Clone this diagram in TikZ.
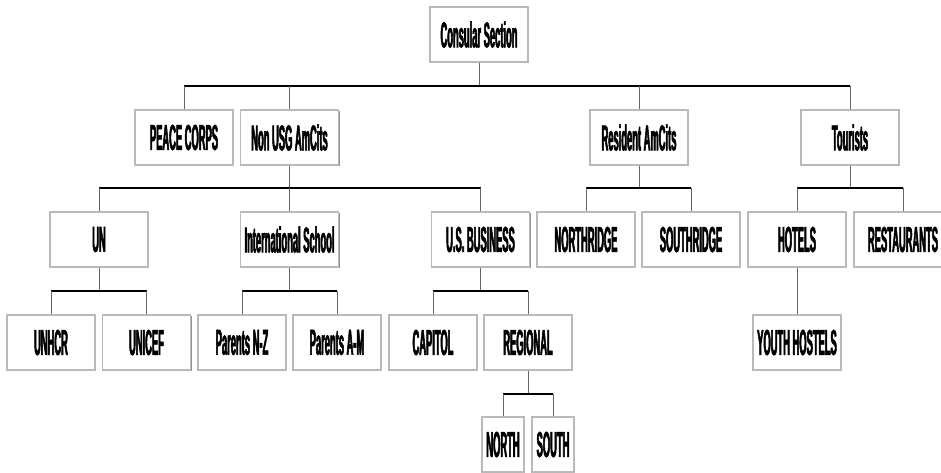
\documentclass[tikz,border=0pt]{standalone}
\usepackage{fontspec}
\newfontfamily\orgfont{Liberation Sans}[FakeStretch=0.26, FakeBold=1.5]
\usepackage{tikz}
\usetikzlibrary{shadows}

\begin{document}
\begin{tikzpicture}[x=0.75pt,y=0.75pt,yscale=-1,xscale=1,
  unit/.style={draw=gray!55, line width=0.9pt, fill=white, inner sep=0pt,
    minimum width=73.5pt, minimum height=41.25pt,
    font=\orgfont\bfseries\fontsize{27}{29}\selectfont,
    drop shadow={shadow xshift=0.9pt, shadow yshift=-0.9pt, fill=gray!85, opacity=1}},
  subunit/.style={unit, minimum width=66pt},
  leaf/.style={unit, minimum width=31.5pt},
  stem/.style={draw=black!60, line width=0.75pt},
  bar/.style={draw=black, line width=1.5pt}]
%set diagram left start at 0, and has height of 472
\useasboundingbox (0,0) rectangle (941,472);

% Text Node
\node[unit] (cons) at (479,34.5) {Consular Section};
% Text Node
\node[unit] (peace) at (184,137.5) {PEACE CORPS};
\node[unit] (nonusg) at (289.5,137.5) {Non USG AmCits};
\node[unit] (resident) at (639,137.5) {Resident AmCits};
\node[unit] (tourists) at (850,137.5) {Tourists};
% Text Node
\node[unit] (un) at (99,239.5) {UN};
\node[unit] (school) at (289.5,239.5) {International School};
\node[unit] (business) at (480.5,239.5) {U.S. BUSINESS};
\node[unit] (northridge) at (586,239.5) {NORTHRIDGE};
\node[unit] (southridge) at (691,239.5) {SOUTHRIDGE};
\node[unit] (hotels) at (797,239.5) {HOTELS};
\node[unit] (restaurants) at (903,239.5) {RESTAURANTS};
% Text Node
\node[subunit] (unhcr) at (51,342.5) {UNHCR};
\node[subunit] (unicef) at (146.5,342.5) {UNICEF};
\node[subunit] (parentsnz) at (242,342.5) {Parents N-Z};
\node[subunit] (parentsam) at (337,342.5) {Parents A-M};
\node[subunit] (capitol) at (433,342.5) {CAPITOL};
\node[subunit] (regional) at (528,342.5) {REGIONAL};
\node[subunit] (youth) at (797,342.5) {YOUTH HOSTELS};
% Text Node
\node[leaf] (north) at (503,444.5) {NORTH};
\node[leaf] (south) at (553,444.5) {SOUTH};

% bar heights
\coordinate (lvl1) at (0,86);
\coordinate (lvl2) at (0,188);
\coordinate (lvl3) at (0,291);
\coordinate (lvl4) at (0,394);

%Straight Lines
\draw[stem] (cons) -- (cons |- lvl1);
\draw[bar] (peace |- lvl1) -- (tourists |- lvl1);
\foreach \n in {peace,nonusg,resident,tourists}
  \draw[stem] (\n |- lvl1) -- (\n);
%Straight Lines
\draw[stem] (nonusg) -- (nonusg |- lvl2);
\draw[bar] (un |- lvl2) -- (business |- lvl2);
\foreach \n in {un,school,business}
  \draw[stem] (\n |- lvl2) -- (\n);
\draw[stem] (resident) -- (resident |- lvl2);
\draw[bar] (northridge |- lvl2) -- (southridge |- lvl2);
\foreach \n in {northridge,southridge}
  \draw[stem] (\n |- lvl2) -- (\n);
\draw[stem] (tourists) -- (tourists |- lvl2);
\draw[bar] (hotels |- lvl2) -- (restaurants |- lvl2);
\foreach \n in {hotels,restaurants}
  \draw[stem] (\n |- lvl2) -- (\n);
%Straight Lines
\draw[stem] (un) -- (un |- lvl3);
\draw[bar] (unhcr |- lvl3) -- (unicef |- lvl3);
\foreach \n in {unhcr,unicef}
  \draw[stem] (\n |- lvl3) -- (\n);
\draw[stem] (school) -- (school |- lvl3);
\draw[bar] (parentsnz |- lvl3) -- (parentsam |- lvl3);
\foreach \n in {parentsnz,parentsam}
  \draw[stem] (\n |- lvl3) -- (\n);
\draw[stem] (business) -- (business |- lvl3);
\draw[bar] (capitol |- lvl3) -- (regional |- lvl3);
\foreach \n in {capitol,regional}
  \draw[stem] (\n |- lvl3) -- (\n);
\draw[stem] (hotels) -- (youth);
%Straight Lines
\draw[stem] (regional) -- (regional |- lvl4);
\draw[bar] (north |- lvl4) -- (south |- lvl4);
\foreach \n in {north,south}
  \draw[stem] (\n |- lvl4) -- (\n);

\end{tikzpicture}
\end{document}
